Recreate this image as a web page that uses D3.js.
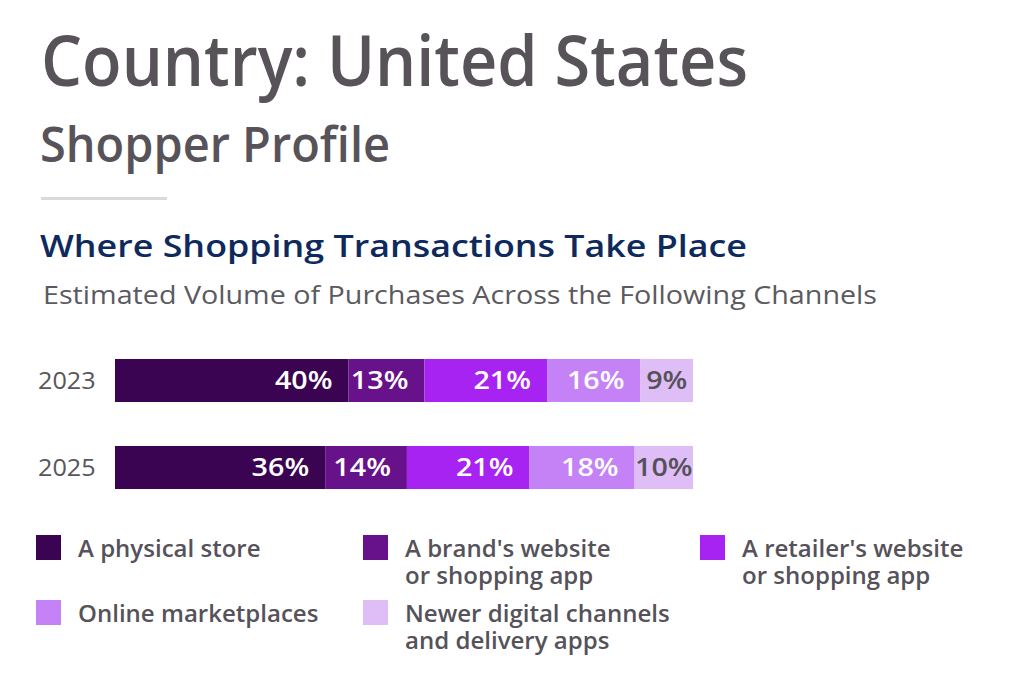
<!DOCTYPE html>
<html>
<head>
<meta charset="utf-8">
<script src="https://cdn.jsdelivr.net/npm/d3@7"></script>
<style>
  html, body { margin: 0; padding: 0; background: #ffffff; }
  svg { display: block; }
  text { font-family: "Open Sans", "Noto Sans", sans-serif; }
</style>
</head>
<body>
<svg id="chart" width="1018" height="696"></svg>
<script>
// ---------- data ----------
const years = ["2023", "2025"];
const channels = [
  "A physical store",
  "A brand's website or shopping app",
  "A retailer's website or shopping app",
  "Online marketplaces",
  "Newer digital channels and delivery apps"
];
const values2023 = [40, 13, 21, 16, 9];
const values2025 = [36, 14, 21, 18, 10];
const legendLines = [
  ["A physical store"],
  ["A brand's website", "or shopping app"],
  ["A retailer's website", "or shopping app"],
  ["Online marketplaces"],
  ["Newer digital channels", "and delivery apps"]
];
const colors = ["#3a0452", "#67128b", "#a723f2", "#c582f6", "#dfbef7"];
const labelColors = ["#ffffff", "#ffffff", "#ffffff", "#ffffff", "#55525a"];

const title = "Country: United States";
const subtitle = "Shopper Profile";
const heading = "Where Shopping Transactions Take Place";
const subheading = "Estimated Volume of Purchases Across the Following Channels";

// ---------- helpers ----------
const svg = d3.select("#chart");
function fitWidth(sel, w) {
  sel.each(function () {
    d3.select(this).attr("textLength", w).attr("lengthAdjust", "spacingAndGlyphs");
  });
}
function stretch(sel, k) {
  sel.each(function () {
    const natural = this.getComputedTextLength();
    d3.select(this).attr("textLength", natural * k).attr("lengthAdjust", "spacingAndGlyphs");
  });
}

// ---------- titles ----------
svg.append("text").attr("x", 41).attr("y", 86)
  .attr("font-size", 71).attr("font-weight", 600).attr("fill", "#575359")
  .text(title).call(fitWidth, 707);

svg.append("text").attr("x", 40).attr("y", 162)
  .attr("font-size", 48).attr("font-weight", 600).attr("fill", "#575359")
  .text(subtitle).call(fitWidth, 350);

svg.append("rect").attr("x", 41).attr("y", 197).attr("width", 126).attr("height", 3)
  .attr("fill", "#d9d9d9");

svg.append("text").attr("x", 40).attr("y", 257)
  .attr("font-size", 31).attr("font-weight", 600).attr("fill", "#0e2a5c")
  .text(heading).call(fitWidth, 707);

svg.append("text").attr("x", 43).attr("y", 304)
  .attr("font-size", 25).attr("font-weight", 400).attr("fill", "#5b5a60")
  .text(subheading).call(fitWidth, 834);

// ---------- bars ----------
const x = d3.scaleLinear().domain([0, 99]).range([115, 693]);
const y = d3.scalePoint().domain(years).range([380.5, 467.5]);
const barH = 43;

const rows = years.map((yr, i) => {
  const vals = i === 0 ? values2023 : values2025;
  let acc = 0;
  return {
    year: yr,
    segs: vals.map((v, j) => {
      const s = { key: channels[j], idx: j, v: v, x0: acc, x1: acc + v };
      acc += v;
      return s;
    })
  };
});

const rowG = svg.selectAll("g.row").data(rows).join("g").attr("class", "row")
  .attr("transform", d => `translate(0,${y(d.year)})`);

rowG.append("text")
  .attr("x", 38).attr("y", 0).attr("dy", "0.36em")
  .attr("font-size", 24).attr("fill", "#58565c")
  .text(d => d.year).call(stretch, 1.05);

rowG.selectAll("rect.seg").data(d => d.segs).join("rect").attr("class", "seg")
  .attr("x", d => x(d.x0))
  .attr("y", -barH / 2)
  .attr("width", d => x(d.x1) - x(d.x0))
  .attr("height", barH)
  .attr("fill", d => colors[d.idx]);

rowG.selectAll("text.lab").data(d => d.segs).join("text").attr("class", "lab")
  .attr("x", d => d.idx === channels.length - 1 ? (x(d.x0) + x(d.x1)) / 2 : x(d.x1) - 16)
  .attr("text-anchor", d => d.idx === channels.length - 1 ? "middle" : "end")
  .attr("y", 0).attr("dy", "0.36em")
  .attr("font-size", 24.5).attr("font-weight", 600)
  .attr("fill", d => labelColors[d.idx])
  .text(d => d.v + "%").call(stretch, 1.17);

// ---------- legend ----------
const legendPos = [[36, 535], [363, 535], [700, 535], [36, 600], [363, 600]];
const legG = svg.selectAll("g.leg").data(channels).join("g").attr("class", "leg")
  .attr("transform", (d, i) => `translate(${legendPos[i][0]},${legendPos[i][1]})`);

legG.append("rect").attr("width", 25).attr("height", 25)
  .attr("fill", (d, i) => colors[i]);

legG.selectAll("text").data((d, i) => legendLines[i]).join("text")
  .attr("x", 42).attr("y", (d, i) => 21.5 + i * 27)
  .attr("font-size", 23).attr("font-weight", 600).attr("fill", "#55525a")
  .text(d => d).call(stretch, 1.045);
</script>
</body>
</html>
